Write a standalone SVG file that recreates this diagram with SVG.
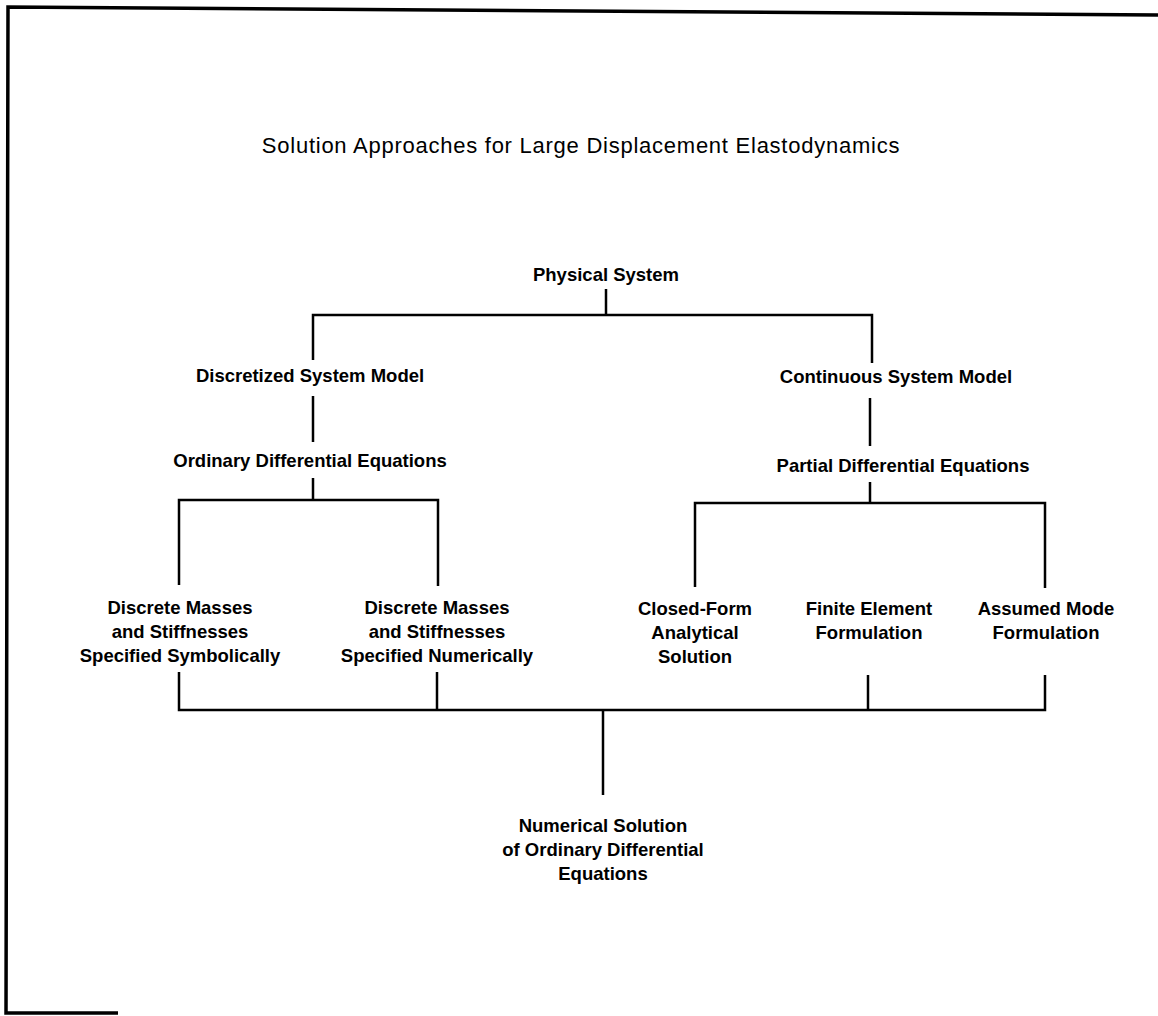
<svg xmlns="http://www.w3.org/2000/svg" width="1158" height="1016" viewBox="0 0 1158 1016">
<style>
.t{font-family:"Liberation Sans",Arial,sans-serif;fill:#000;text-anchor:middle}
.n{font-size:18.5px;font-weight:bold}
.title{font-size:22px;letter-spacing:0.75px}
.c{stroke:#000;stroke-width:2.5;fill:none}
.f{stroke:#000;stroke-width:3.5;fill:none}
</style>
<rect width="1158" height="1016" fill="#fff"/>
<g id="frame">
<path class="f" d="M1158,15 L8,7 L6,1013 L118,1013"/>
</g>
<text class="t title" x="581" y="153">Solution Approaches for Large Displacement Elastodynamics</text>
<g id="connectors">
<path class="c" d="M606,289 V315"/>
<path class="c" d="M313,360 V315 H872 V363"/>
<path class="c" d="M313,396 V442"/>
<path class="c" d="M870,398 V446"/>
<path class="c" d="M313,478 V500"/>
<path class="c" d="M179,585 V500 H438 V586"/>
<path class="c" d="M870,482 V503"/>
<path class="c" d="M695,587 V503 H1045 V588"/>
<path class="c" d="M179,672 V710 H1045 V675"/>
<path class="c" d="M437,672 V710"/>
<path class="c" d="M868,675 V710"/>
<path class="c" d="M603,710 V795"/>
</g>
<g id="physical"><text class="t n" x="606" y="281">Physical System</text></g>
<g id="discretized"><text class="t n" x="310" y="382">Discretized System Model</text></g>
<g id="continuous"><text class="t n" x="896" y="383">Continuous System Model</text></g>
<g id="ode"><text class="t n" x="310" y="467">Ordinary Differential Equations</text></g>
<g id="pde"><text class="t n" x="903" y="472">Partial Differential Equations</text></g>
<g id="symbolic"><text class="t n" x="180" y="614">Discrete Masses<tspan x="180" dy="24">and Stiffnesses</tspan><tspan x="180" dy="24">Specified Symbolically</tspan></text></g>
<g id="numeric"><text class="t n" x="437" y="614">Discrete Masses<tspan x="437" dy="24">and Stiffnesses</tspan><tspan x="437" dy="24">Specified Numerically</tspan></text></g>
<g id="closed"><text class="t n" x="695" y="615">Closed-Form<tspan x="695" dy="24">Analytical</tspan><tspan x="695" dy="24">Solution</tspan></text></g>
<g id="fem"><text class="t n" x="869" y="615">Finite Element<tspan x="869" dy="24">Formulation</tspan></text></g>
<g id="assumed"><text class="t n" x="1046" y="615">Assumed Mode<tspan x="1046" dy="24">Formulation</tspan></text></g>
<g id="numsol"><text class="t n" x="603" y="832">Numerical Solution<tspan x="603" dy="24">of Ordinary Differential</tspan><tspan x="603" dy="24">Equations</tspan></text></g>
</svg>
